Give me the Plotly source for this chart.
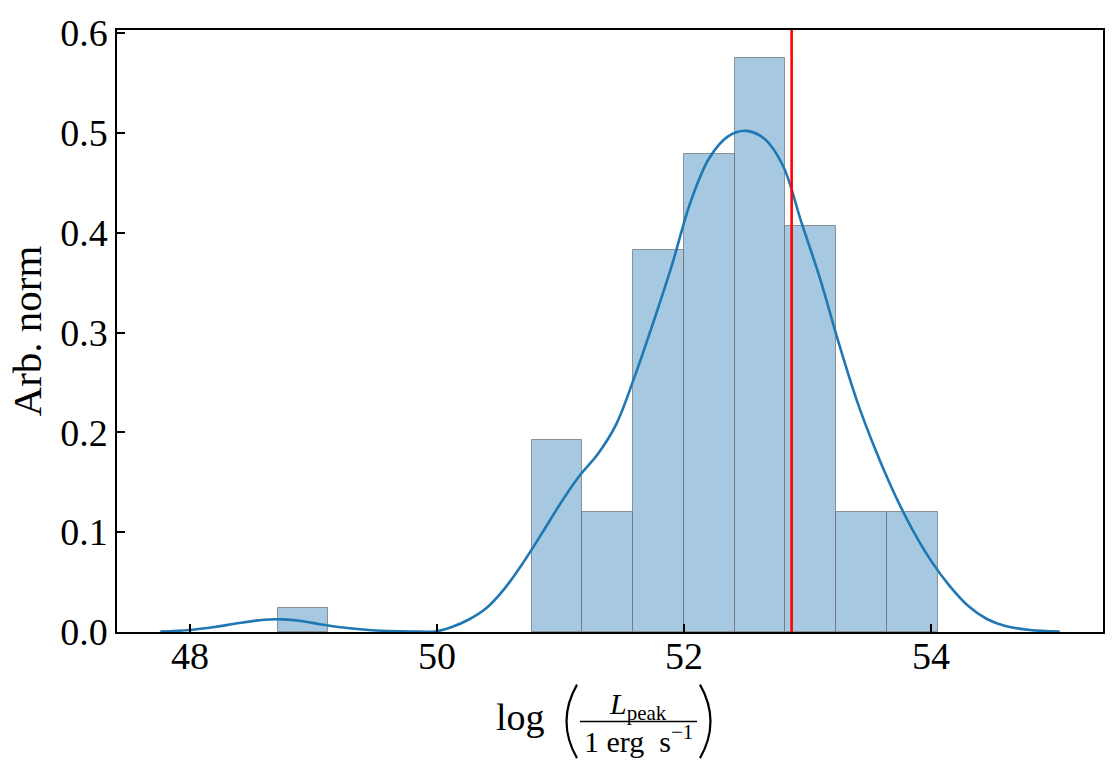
import plotly.graph_objects as go

# ---------------- data ----------------
bin_left_edges = [48.71, 50.765, 51.176, 51.587, 51.998, 52.409, 52.82, 53.231, 53.642]
bin_width = 0.411
bar_heights = [0.024, 0.192, 0.120, 0.383, 0.479, 0.575, 0.407, 0.120, 0.120]

kde_x = [47.76, 48.0, 48.2, 48.4, 48.6, 48.75, 48.9, 49.05, 49.2, 49.4, 49.6, 49.8,
         50.0, 50.12, 50.25, 50.4, 50.55, 50.7, 50.85, 51.0, 51.15, 51.3, 51.45,
         51.6, 51.75, 51.9, 52.05, 52.2, 52.35, 52.5, 52.65, 52.8, 52.95, 53.1,
         53.25, 53.4, 53.55, 53.7, 53.85, 54.0, 54.15, 54.3, 54.45, 54.6, 54.8, 55.04]
kde_y = [0.0005, 0.002, 0.005, 0.009, 0.0123, 0.0126, 0.011, 0.0078, 0.005, 0.0025,
         0.001, 0.0005, 0.0008, 0.005, 0.012, 0.024, 0.044, 0.07, 0.099, 0.129,
         0.156, 0.178, 0.208, 0.256, 0.310, 0.367, 0.430, 0.474, 0.496, 0.502,
         0.494, 0.467, 0.410, 0.354, 0.290, 0.231, 0.182, 0.139, 0.102, 0.071,
         0.046, 0.026, 0.013, 0.006, 0.002, 0.0005]

red_line_x = 52.87

x_ticks = [48, 50, 52, 54]
x_tick_labels = ["48", "50", "52", "54"]
y_ticks = [0.0, 0.1, 0.2, 0.3, 0.4, 0.5, 0.6]
y_tick_labels = ["0.0", "0.1", "0.2", "0.3", "0.4", "0.5", "0.6"]

FONT = "Liberation Serif"

bar_centers = [e + bin_width / 2 for e in bin_left_edges]

fig = go.Figure()
fig.add_trace(go.Bar(
    x=bar_centers, y=bar_heights, width=[bin_width] * len(bar_centers),
    marker=dict(color="rgb(166,201,225)", line=dict(color="rgba(90,90,90,0.6)", width=1)),
    showlegend=False,
))
fig.add_trace(go.Scatter(
    x=kde_x, y=kde_y, mode="lines",
    line=dict(color="#1f77b4", width=2.6, shape="spline", smoothing=1.0),
    showlegend=False,
))
fig.add_trace(go.Scatter(
    x=[red_line_x, red_line_x], y=[0, 0.61], mode="lines",
    line=dict(color="red", width=2.6), showlegend=False,
))

fig.update_layout(
    width=1119, height=775,
    margin=dict(l=117, r=16, t=26, b=143),
    paper_bgcolor="white", plot_bgcolor="white",
    font=dict(family=FONT, size=38, color="black"),
    bargap=0,
    xaxis=dict(
        range=[47.41, 55.39], tickvals=x_ticks, showticklabels=False,
        ticks="inside", ticklen=8, tickwidth=1.5, tickcolor="black",
        showline=True, linecolor="black", linewidth=1.5, mirror=True,
        showgrid=False, zeroline=False,
    ),
    yaxis=dict(
        range=[0, 0.603], tickvals=y_ticks, ticktext=y_tick_labels,
        ticks="inside", ticklen=8, tickwidth=1.5, tickcolor="black",
        showline=True, linecolor="black", linewidth=1.5, mirror=True,
        showgrid=False, zeroline=False, tickfont=dict(family=FONT, size=38),
        title=dict(text="Arb. norm", font=dict(family=FONT, size=41), standoff=6),
    ),
)

# x-axis title built as a LaTeX-like fraction
W, H = 1119, 775
L, R, T, B = 117, 16, 26, 143
pw, ph = W - L - R, H - T - B
def px(x):
    return (x - L) / pw
def py(y):
    return (H - B - y) / ph

ann = []
# x tick labels (placed close to the axis, as in the reference)
for v, t in zip(x_ticks, x_tick_labels):
    ann.append(dict(text=t, x=v, xref="x", y=0, yref="paper", yanchor="top",
                    xanchor="center", yshift=-1, showarrow=False,
                    font=dict(family=FONT, size=38)))
ann.append(dict(text="log", x=px(520), y=py(718), xref="paper", yref="paper",
                showarrow=False, font=dict(family=FONT, size=38), xanchor="center", yanchor="middle"))
ann.append(dict(text="<i>L</i><sub>peak</sub>", x=px(638), y=py(706), xref="paper", yref="paper",
                showarrow=False, font=dict(family=FONT, size=30), xanchor="center", yanchor="middle"))
ann.append(dict(text="1 erg  s<sup>−1</sup>", x=px(638), y=py(740), xref="paper", yref="paper",
                showarrow=False, font=dict(family=FONT, size=30), xanchor="center", yanchor="middle"))
fig.update_layout(annotations=ann)
fig.add_shape(type="line", xref="paper", yref="paper",
              x0=px(580), x1=px(697), y0=py(722), y1=py(722),
              line=dict(color="black", width=1.5))
# big parentheses
fig.add_shape(type="path", xref="paper", yref="paper",
              path=f"M {px(577)},{py(685)} Q {px(556)},{py(722)} {px(577)},{py(759)}",
              line=dict(color="black", width=2.2))
fig.add_shape(type="path", xref="paper", yref="paper",
              path=f"M {px(700)},{py(685)} Q {px(721)},{py(722)} {px(700)},{py(759)}",
              line=dict(color="black", width=2.2))

fig.write_html("out.html")
